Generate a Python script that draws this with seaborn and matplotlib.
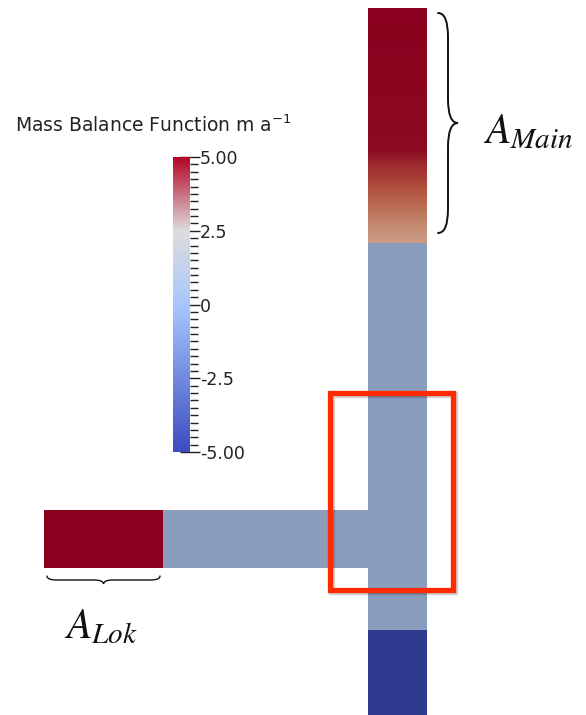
import numpy as np
import matplotlib
matplotlib.use("Agg")
import matplotlib.pyplot as plt
import seaborn as sns
from matplotlib.colors import LinearSegmentedColormap, Normalize
from matplotlib.path import Path
from matplotlib.patches import PathPatch, Rectangle
import matplotlib.colorbar as mcolorbar

# ---------------- data (grid units along the glacier outline) ----------------
main_x = [368, 427]                       # main trunk left/right edge
main_zone_top = [8, 243, 630]             # accumulation, neutral, ablation
main_zone_bottom = [243, 630, 715]
main_zone_colors = ["#8a001e", "#8a9dbd", "#2f3b8e"]

# mass-balance colour ramp in the upper accumulation area
grad_y = [8, 150, 165, 185, 205, 225, 243]
grad_colors = ["#8a001e", "#8c0a22", "#9e2a30", "#ae4a3a", "#b96a50", "#c4896f", "#cc9c86"]

lok_y = [510, 568]                        # tributary top/bottom edge
lok_zone_left = [44, 163]
lok_zone_right = [163, 368]
lok_zone_colors = ["#8a001e", "#8a9dbd"]

focus_box = [330, 393, 453, 590]          # x0, y0, x1, y1

cbar_ticks = [5.0, 2.5, 0.0, -2.5, -5.0]
cbar_labels = ["5.00", "2.5", "0", "-2.5", "-5.00"]
cbar_minor = list(np.arange(-5.0, 5.01, 0.25))
cbar_title = r"Mass Balance Function m a$^{-1}$"

main_label = r"$A_{Main}$"
lok_label = r"$A_{Lok}$"

# ---------------- figure ----------------
sns.set_theme(style="white")
plt.rcParams["font.family"] = ["DejaVu Sans"]
plt.rcParams["mathtext.fontset"] = "stix"
plt.rcParams["axes.unicode_minus"] = False

W, H = 586, 715
fig = plt.figure(figsize=(W / 100, H / 100), dpi=100)
fig.patch.set_facecolor("white")
ax = fig.add_axes([0, 0, 1, 1])
ax.set_xlim(0, W)
ax.set_ylim(H, 0)
ax.axis("off")

# main trunk zones
for t, b, c in zip(main_zone_top, main_zone_bottom, main_zone_colors):
    ax.bar(x=(main_x[0] + main_x[1]) / 2, height=b - t, bottom=t,
           width=main_x[1] - main_x[0], color=c, linewidth=0, zorder=2)

# accumulation gradient
ramp = LinearSegmentedColormap.from_list(
    "ramp", [((y - grad_y[0]) / (grad_y[-1] - grad_y[0]), c) for y, c in zip(grad_y, grad_colors)])
col = np.linspace(0, 1, 400).reshape(-1, 1)
ax.imshow(col, cmap=ramp, aspect="auto", interpolation="bilinear",
          extent=[main_x[0], main_x[1], grad_y[-1], grad_y[0]], zorder=3)

# tributary zones
for l, r, c in zip(lok_zone_left, lok_zone_right, lok_zone_colors):
    ax.barh(y=(lok_y[0] + lok_y[1]) / 2, width=r - l, left=l,
            height=lok_y[1] - lok_y[0], color=c, linewidth=0, zorder=2)

# focus box with slight shadow
x0, y0, x1, y1 = focus_box
ax.add_patch(Rectangle((x0 + 2, y0 + 2), x1 - x0, y1 - y0, fill=False,
                       edgecolor="#00000030", linewidth=4.5, zorder=4))
ax.add_patch(Rectangle((x0, y0), x1 - x0, y1 - y0, fill=False,
                       edgecolor="#ff2a00", linewidth=3.8, zorder=5))


def brace(ax, a0, a1, pos, depth, vertical=True, lw=1.4):
    """Curly brace from a0 to a1 at 'pos', tip pointing by 'depth'."""
    am = (a0 + a1) / 2
    r = min(abs(depth) * 1.2, abs(a1 - a0) / 6)
    s = np.sign(a1 - a0)
    h = pos + depth / 2
    pts = [(pos, a0), (h, a0), (h, a0 + s * r),
           (h, am - s * r), (h, am), (pos + depth, am),
           (h, am), (h, am + s * r),
           (h, a1 - s * r), (h, a1), (pos, a1)]
    codes = [Path.MOVETO, Path.CURVE3, Path.CURVE3,
             Path.LINETO, Path.CURVE3, Path.CURVE3,
             Path.CURVE3, Path.CURVE3,
             Path.LINETO, Path.CURVE3, Path.CURVE3]
    if not vertical:
        pts = [(b, a) for a, b in pts]
    ax.add_patch(PathPatch(Path(pts, codes), fill=False, edgecolor="#111111",
                           linewidth=lw, capstyle="round", zorder=6))


brace(ax, 13, 233, 438, 20, vertical=True, lw=1.4)
brace(ax, 47, 160, 576, 8, vertical=False, lw=1.0)

ax.text(483, 143, main_label, fontsize=30, color="#111111", ha="left", va="baseline")
ax.text(64, 638, lok_label, fontsize=30, color="#111111", ha="left", va="baseline")

ax.text(15, 125, cbar_title, fontsize=13.5, color="#222222", ha="left", va="center",
        math_fontfamily="dejavusans")

# colour bar
base = plt.get_cmap("coolwarm")
cb_cmap = LinearSegmentedColormap.from_list(
    "mb", [(0.0, base(0.0)), (0.5, base(0.33)), (0.75, base(0.5)), (1.0, base(1.0))])
cax = fig.add_axes([173 / W, 1 - 452 / H, 17 / W, 295 / H])
cb = mcolorbar.ColorbarBase(cax, cmap=cb_cmap, norm=Normalize(-5, 5), orientation="vertical")
cb.outline.set_visible(False)
cax.set_yticks(cbar_ticks)
cax.set_yticklabels(cbar_labels)
cax.set_yticks(cbar_minor, minor=True)
cax.yaxis.set_ticks_position("right")
cax.tick_params(axis="y", which="major", direction="inout", length=14, width=1.0,
                color="#222222", labelsize=12.5, labelcolor="#222222", pad=0)
cax.tick_params(axis="y", which="minor", direction="out", length=6, width=1.0,
                color="#222222")
cax.tick_params(axis="x", bottom=False, labelbottom=False)

fig.savefig("out.png", dpi=100, facecolor="white")
